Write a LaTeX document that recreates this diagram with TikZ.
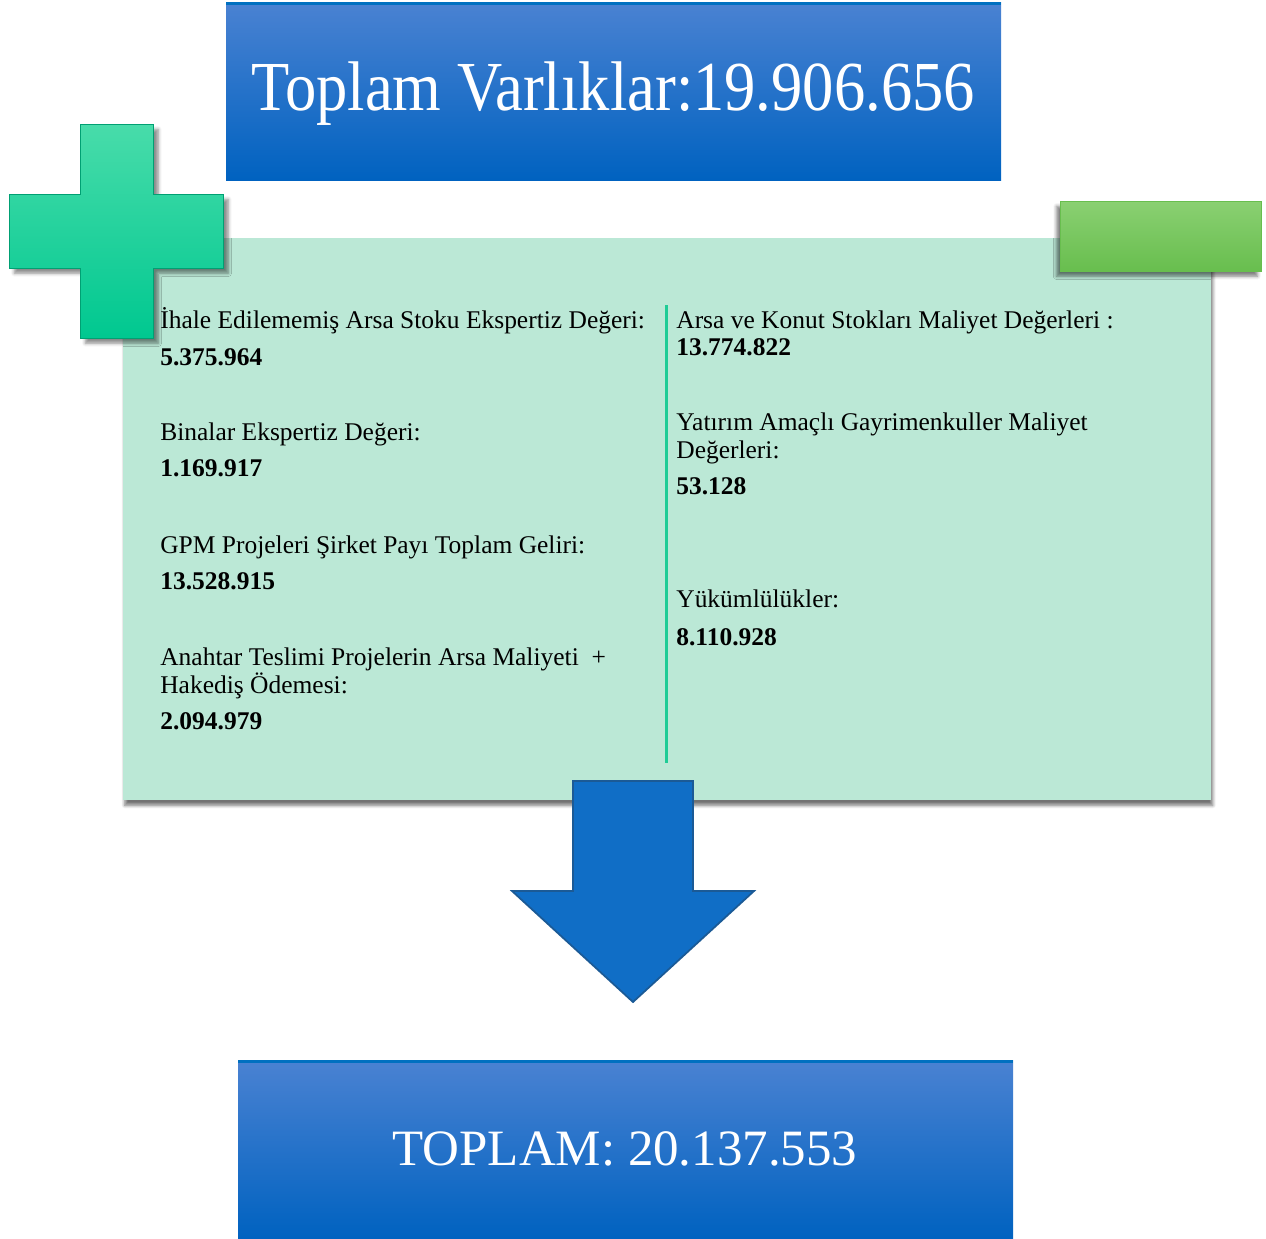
\documentclass[tikz,border=0pt]{standalone}
\usepackage{fontspec}
\setmainfont{Liberation Serif}
\newfontfamily\titlefont[FakeStretch=0.89]{Liberation Serif}
\usepackage{tikz}
\usetikzlibrary{positioning,shadows.blur}

\definecolor{boxtop}{HTML}{4A82D2}
\definecolor{boxbot}{HTML}{0062C0}
\definecolor{boxedge}{HTML}{0070C0}
\definecolor{panelmint}{HTML}{BBE8D6}
\definecolor{plustop}{HTML}{48DCAA}
\definecolor{plusbot}{HTML}{00C890}
\definecolor{minustop}{HTML}{8AD072}
\definecolor{minusbot}{HTML}{68BE4E}
\definecolor{arrowblue}{HTML}{106EC6}
\definecolor{arrowedge}{HTML}{1B5A96}
\definecolor{divgreen}{HTML}{1ECC96}

\tikzset{
  bluebox/.style={top color=boxtop, bottom color=boxbot},
  lbl/.style={anchor=base west, inner sep=0pt, font=\fontsize{14.5}{16}\selectfont},
  num/.style={anchor=base west, inner sep=0pt, font=\fontsize{14.5}{16}\selectfont\bfseries},
}

\begin{document}
\begin{tikzpicture}[x=0.02cm, y=-0.02cm]
\useasboundingbox (0,0) rectangle (1266,1238);
%----------------------------------
\shade[bluebox] (226,2) rectangle (1001,180);
\fill[boxedge] (226,2) rectangle (1001,5);
\node[anchor=base, text=white, inner sep=0pt,
  font=\titlefont\fontsize{40}{44}\selectfont] (total1) at (613,110)
  {Toplam Varlıklar:19.906.656};
%----------------------------------
\fill[panelmint, blur shadow={shadow xshift=1pt, shadow yshift=-3pt,
  shadow blur steps=6, shadow opacity=55}] (123,238) rectangle (1211,800);
% plus and minus
\shade[top color=plustop, bottom color=plusbot, draw=plusbot!80!black, line width=0.3pt,
  blur shadow={shadow xshift=3pt, shadow yshift=-3pt, shadow opacity=45}]
  (80,124) -- (153,124) -- (153,194) -- (223,194) -- (223,268) -- (153,268)
  -- (153,338) -- (80,338) -- (80,268) -- (9,268) -- (9,194) -- (80,194) -- cycle;
\shade[top color=minustop, bottom color=minusbot, draw=minusbot, line width=0.3pt,
  blur shadow={shadow xshift=-2pt, shadow yshift=-3pt, shadow opacity=50}]
  (1060,201) rectangle (1261,271);
%----------------------------------
\coordinate (divtop) at (666,305);
\coordinate (divbot) at (666,763);
\draw[divgreen, line width=1.7pt] (divtop) -- (divbot);
% left column
\node[lbl] (l1) at (160,328) {İhale Edilememiş Arsa Stoku Ekspertiz Değeri:};
\node[num] (v1) at ([shift={(0,37)}]l1.base west) {5.375.964};
\node[lbl] (l2) at (160,440) {Binalar Ekspertiz Değeri:};
\node[num] (v2) at ([shift={(0,36)}]l2.base west) {1.169.917};
\node[lbl] (l3) at (160,553) {GPM Projeleri Şirket Payı Toplam Geliri:};
\node[num] (v3) at ([shift={(0,36)}]l3.base west) {13.528.915};
\node[lbl] (l4a) at (160,665) {Anahtar Teslimi Projelerin Arsa Maliyeti \ +};
\node[lbl] (l4b) at ([shift={(0,28)}]l4a.base west) {Hakediş Ödemesi:};
\node[num] (v4) at ([shift={(0,36)}]l4b.base west) {2.094.979};
% right column
\node[lbl] (r1) at (676,328) {Arsa ve Konut Stokları Maliyet Değerleri :};
\node[num] (w1) at ([shift={(0,27)}]r1.base west) {13.774.822};
\node[lbl] (r2a) at (676,430) {Yatırım Amaçlı Gayrimenkuller Maliyet};
\node[lbl] (r2b) at ([shift={(0,28)}]r2a.base west) {Değerleri:};
\node[num] (w2) at ([shift={(0,36)}]r2b.base west) {53.128};
\node[lbl] (r3) at (676,607) {Yükümlülükler:};
\node[num] (w3) at ([shift={(0,38)}]r3.base west) {8.110.928};
%----------------------------------
\filldraw[fill=arrowblue, draw=arrowedge, line width=1pt, line join=miter]
  (573,781) -- (693,781) -- (693,891) -- (754,891) -- (633,1002)
  -- (512,891) -- (573,891) -- cycle;
%----------------------------------
\shade[bluebox] (238,1060) rectangle (1013,1238);
\fill[boxedge] (238,1060) rectangle (1013,1063);
\node[anchor=base, text=white, inner sep=0pt,
  font=\fontsize{29}{32}\selectfont] (total2) at (625,1165)
  {TOPLAM: 20.137.553};
\end{tikzpicture}
\end{document}
